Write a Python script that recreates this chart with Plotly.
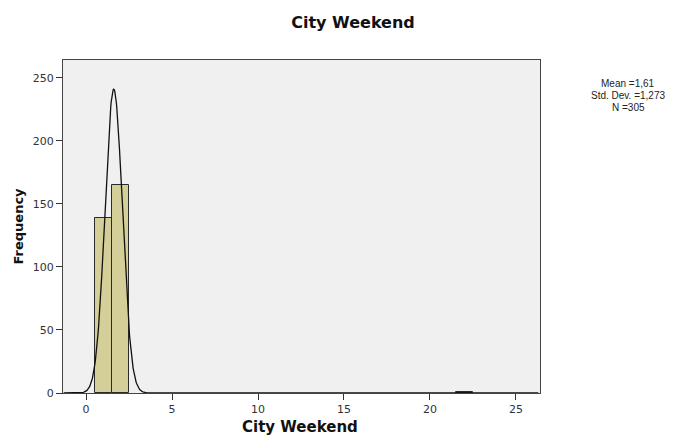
import numpy as np
import plotly.graph_objects as go

# Histogram data (bin centers, width 1)
bin_centers = [1, 2, 22]
frequencies = [139, 165, 1]
bin_width = 1

# Stats shown in the legend text
mean_val = 1.61
std_text = "1,273"
mean_text = "1,61"
n_val = 305
# Normal curve as drawn (peak ~241)
curve_sd = 0.505

x_ticks = [0, 5, 10, 15, 20, 25]
y_ticks = [0, 50, 100, 150, 200, 250]

xs = np.linspace(-1.3, 26.3, 1200)
ys = n_val * bin_width / (curve_sd * np.sqrt(2 * np.pi)) * np.exp(-0.5 * ((xs - mean_val) / curve_sd) ** 2)

fig = go.Figure()
fig.add_trace(go.Bar(
    x=bin_centers, y=frequencies, width=[bin_width] * len(bin_centers),
    marker=dict(color="#d4cf99", line=dict(color="#2a2a2a", width=1)),
    hoverinfo="x+y", showlegend=False,
))
fig.add_trace(go.Scatter(
    x=xs, y=ys, mode="lines", line=dict(color="#111111", width=1.3),
    showlegend=False, hoverinfo="skip",
))

# The page body has an 8px default margin, so the figure is sized to fit the window.
bold_font = "DejaVu Sans, sans-serif"
tick_font = "DejaVu Sans, sans-serif"
stat_font = dict(family="Liberation Sans, Arial, sans-serif", size=10, color="#222222")
fig.update_layout(
    width=665, height=428,
    margin=dict(l=55, r=133, t=52, b=43, autoexpand=False),
    paper_bgcolor="white", plot_bgcolor="#f0f0f0",
    font=dict(family=tick_font, color="#222222", size=11),
    title=dict(text="<b>City Weekend</b>", xref="container", x=0.5188, xanchor="center",
               yref="container", y=0.9673, yanchor="middle",
               font=dict(family=bold_font, size=16, color="#111111")),
    bargap=0,
    xaxis=dict(
        range=[-1.34, 26.4], tickvals=x_ticks, ticks="outside", ticklen=6, tickcolor="#333333",
        showgrid=False, zeroline=False, showline=True, linecolor="#444444", linewidth=1.2, mirror=True,
        tickfont=dict(size=11, color="#333333"), automargin=False,
    ),
    yaxis=dict(
        range=[0, 264], tickvals=y_ticks, ticks="outside", ticklen=6, tickcolor="#333333",
        showgrid=False, zeroline=False, showline=True, linecolor="#444444", linewidth=1.2, mirror=True,
        tickfont=dict(size=11, color="#333333"), automargin=False,
    ),
    annotations=[
        dict(xref="paper", yref="paper", x=0.497, y=-0.102, xanchor="center", yanchor="middle",
             text="<b>City Weekend</b>", showarrow=False,
             font=dict(family=bold_font, size=15, color="#111111")),
        dict(xref="paper", yref="paper", x=-0.0943, y=0.5, xanchor="center", yanchor="middle",
             text="<b>Frequency</b>", showarrow=False, textangle=-90,
             font=dict(family=bold_font, size=13, color="#111111")),
        dict(xref="paper", yref="paper", x=1.1845, y=0.928, xanchor="center", yanchor="middle",
             text=f"Mean ={mean_text}", showarrow=False, font=stat_font),
        dict(xref="paper", yref="paper", x=1.1845, y=0.892, xanchor="center", yanchor="middle",
             text=f"Std. Dev. ={std_text}", showarrow=False, font=stat_font),
        dict(xref="paper", yref="paper", x=1.1845, y=0.856, xanchor="center", yanchor="middle",
             text=f"N ={n_val}", showarrow=False, font=stat_font),
    ],
)

fig.write_html("out.html")
